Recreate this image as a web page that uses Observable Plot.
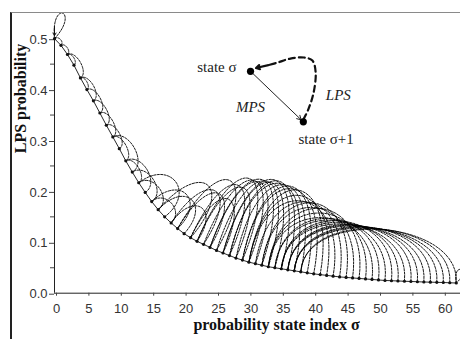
<!DOCTYPE html>
<html><head><meta charset="utf-8">
<script src="https://cdn.jsdelivr.net/npm/d3@7"></script>
<script src="https://cdn.jsdelivr.net/npm/@observablehq/plot@0.6"></script>
<style>
html,body{margin:0;padding:0;background:#fff;}
#wrap{position:relative;width:460px;height:339px;overflow:hidden;background:#fff;}
#wrap svg{position:absolute;left:0;top:0;}
#border{position:absolute;left:10px;top:12px;width:700px;height:700px;border-left:2px solid #222;border-top:1px solid #8a8a8a;pointer-events:none;}
</style></head><body>
<div id="wrap"></div>
<script>
// LPS probability of each state sigma = 0..62
const lpsProb = [0.500,0.487,0.469,0.448,0.423,0.400,0.378,0.354,0.330,0.307,
  0.284,0.260,0.238,0.217,0.198,0.180,0.164,0.150,0.138,0.127,
  0.117,0.109,0.102,0.096,0.090,0.084,0.079,0.074,0.069,0.065,
  0.061,0.058,0.055,0.052,0.050,0.048,0.046,0.044,0.042,0.040,
  0.038,0.0365,0.035,0.0335,0.032,0.031,0.030,0.029,0.028,0.027,
  0.026,0.025,0.0245,0.024,0.0235,0.023,0.0225,0.022,0.0217,0.0213,
  0.021,0.0205,0.020];
// next state after an LPS (dashed transitions, leftwards)
const transIdxLPS = [0,0,1,2,2,4,4,5,6,7,8,9,9,11,11,12,13,13,15,15,
  16,16,18,18,19,19,21,21,22,22,23,24,24,25,26,26,27,27,28,29,
  29,30,30,30,31,32,32,33,33,33,34,34,35,35,35,36,36,36,37,37,
  37,38,38];
const xTicks = [0,5,10,15,20,25,30,35,40,45,50,55,60];
const yTicks = [0,0.1,0.2,0.3,0.4,0.5];
const yMinorTicks = [0.05,0.15,0.25,0.35,0.45];
const yLabel = "LPS probability";
const xLabel = "probability state index σ";
// inset schematic (in chart units)
const insetDots = [{x:30.25,y:0.436},{x:38.4,y:0.3366}];
const insetTexts = [
  {x:28.1,y:0.4436,text:"state σ",anchor:"end",italic:false},
  {x:30.25,y:0.366,text:"MPS",anchor:"middle",italic:true},
  {x:43.8,y:0.389,text:"LPS",anchor:"middle",italic:true},
  {x:37.65,y:0.3016,text:"state σ+1",anchor:"start",italic:false}];
const insetLps = [{x:38.4,y:0.341},{x:39.2,y:0.362},{x:40.0,y:0.395},{x:40.3,y:0.434},
  {x:39.8,y:0.457},{x:38.5,y:0.463},{x:36.4,y:0.461},{x:34.4,y:0.453},{x:33.0,y:0.448}];

const W=460,H=339,mL=54,mR=0,mT=12.75,mB=46.3;
const xDomain=[0,62.654], yDomain=[0,0.55];
const xs=d3.scaleLinear(xDomain,[mL,W-mR]);
const ys=d3.scaleLinear(yDomain,[H-mB,mT]);

const states = lpsProb.map((p,i)=>i);
const curveRows = states.map(s=>({state:s,p:lpsProb[s]}));

// bulge (px) of a dashed LPS arc as a function of how many states it jumps back
const bulge = d3.scaleLinear([0,1,2,3,4,5,6,7,9,11,13,16,19,24],[0,5,10,18,40,68,90,104,112,106,92,74,68,64]).clamp(true);

function bez(P0,C1,C2,P3,n){
  const out=[];
  for(let k=0;k<=n;k++){
    const u=k/n,a=(1-u)**3,b=3*(1-u)**2*u,c=3*(1-u)*u*u,d=u**3;
    out.push([a*P0[0]+b*C1[0]+c*C2[0]+d*P3[0], a*P0[1]+b*C1[1]+c*C2[1]+d*P3[1]]);
  }
  return out;
}
const arcRows=[];
function pushPath(id,pts){pts.forEach(([px,py])=>arcRows.push({id,x:xs.invert(px),y:ys.invert(py)}));}
states.forEach(s=>{
  const t=transIdxLPS[s];
  const S=[xs(s),ys(lpsProb[s])];
  if(t===s){
    pushPath("loop"+s,bez(S,[S[0]+26,S[1]-28],[S[0]-4,S[1]-40],S,30));
    return;
  }
  const T=[xs(t),ys(lpsProb[t])];
  const dx=T[0]-S[0],dy=T[1]-S[1],L=Math.hypot(dx,dy);
  const nx=-dy/L,ny=dx/L;
  const h=bulge(s-t);
  pushPath(s,bez(S,[S[0]+h*nx,S[1]+h*ny],[T[0]+h*nx,T[1]+h*ny],T,28));
});
// MPS self loop at the last state
{ const s=62,S=[xs(s),ys(lpsProb[s])];
  pushPath("mps62",bez(S,[S[0]-4,S[1]-22],[S[0]+16,S[1]-14],S,20)); }

const serif="'Liberation Serif','Times New Roman',serif";
const chart = Plot.plot({
  width:W,height:H,marginLeft:mL,marginRight:mR,marginTop:mT,marginBottom:mB,
  x:{domain:xDomain,axis:null},
  y:{domain:yDomain,axis:null},
  style:{fontFamily:"'Liberation Sans',Arial,sans-serif",background:"transparent",overflow:"visible"},
  marks:[
    Plot.line(arcRows,{x:"x",y:"y",z:"id",stroke:"#000",strokeWidth:0.9,strokeDasharray:"2.2,1.3"}),
    Plot.arrow([0],{x1:0,x2:0,y1:lpsProb[0]+0.024,y2:lpsProb[0]+0.006,stroke:"#111",strokeWidth:1,headLength:6}),
    Plot.ruleY([0],{stroke:"#222",strokeWidth:1}),
    Plot.ruleX([0],{y1:0,y2:0.5,stroke:"#222",strokeWidth:1}),
    Plot.axisY(yTicks,{tickSize:5,tickPadding:2,tickFormat:d3.format(".1f"),fontSize:13,fill:"#333",stroke:"#444",label:null,dy:1}),
    Plot.axisY(yMinorTicks,{tickSize:4,tickFormat:()=>"",stroke:"#444",label:null}),
    Plot.axisX(xTicks,{tickSize:3,tickPadding:8,fontSize:13,fill:"#333",stroke:"#444",label:null,dx:2}),
    Plot.line(curveRows,{x:"state",y:"p",stroke:"#111",strokeWidth:0.9}),
    Plot.dot(curveRows,{x:"state",y:"p",r:1.6,fill:"#111",stroke:null}),
    // inset
    Plot.line(insetLps,{x:"x",y:"y",curve:"catmull-rom",stroke:"#111",strokeWidth:2.2,strokeDasharray:"6,4"}),
    Plot.arrow([0],{x1:insetLps[8].x,y1:insetLps[8].y,x2:31.1,y2:0.4425,stroke:"#111",strokeWidth:2.2,headLength:9}),
    Plot.arrow([0],{x1:insetDots[0].x,y1:insetDots[0].y,x2:insetDots[1].x,y2:insetDots[1].y,stroke:"#222",strokeWidth:1,headLength:7,insetEnd:3}),
    Plot.dot(insetDots,{x:"x",y:"y",r:3.6,fill:"#000"}),
    Plot.text(insetTexts.filter(d=>!d.italic&&d.anchor==="end"),{x:"x",y:"y",text:"text",textAnchor:"end",fontFamily:serif,fontSize:15,fill:"#222"}),
    Plot.text(insetTexts.filter(d=>!d.italic&&d.anchor==="start"),{x:"x",y:"y",text:"text",textAnchor:"start",fontFamily:serif,fontSize:15,fill:"#222"}),
    Plot.text(insetTexts.filter(d=>d.italic),{x:"x",y:"y",text:"text",fontFamily:serif,fontStyle:"italic",fontSize:15,fill:"#222"}),
    // axis titles
    Plot.text([yLabel],{frameAnchor:"left",dx:-34,rotate:-90,text:d=>d,fontFamily:serif,fontWeight:"bold",fontSize:16,fill:"#111"}),
    Plot.text([xLabel],{frameAnchor:"bottom",dx:19,dy:37,text:d=>d,fontFamily:serif,fontWeight:"bold",fontSize:16,fill:"#111"})
  ]
});
const wrap=document.getElementById("wrap");
wrap.appendChild(chart);
const b=document.createElement("div");b.id="border";wrap.appendChild(b);
</script>
</body></html>
